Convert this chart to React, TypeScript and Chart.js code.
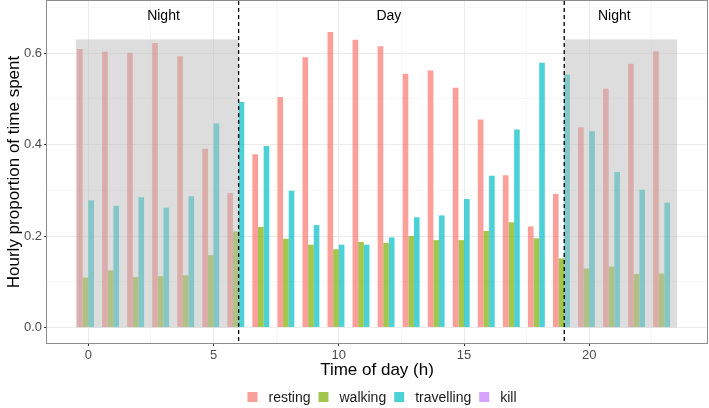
import React, { useEffect, useRef } from "react";
import { Chart, registerables } from "chart.js";

Chart.register(...registerables);

// Hour of day for each group of bars
const hours = [0, 1, 2, 3, 4, 5, 6, 7, 8, 9, 10, 11, 12, 13, 14, 15, 16, 17, 18, 19, 20, 21, 22, 23];

// Hourly proportion of time spent in each behaviour
const resting = [0.609, 0.603, 0.601, 0.622, 0.593, 0.391, 0.294, 0.379, 0.504, 0.591, 0.646, 0.629, 0.615, 0.555, 0.562, 0.524, 0.455, 0.333, 0.221, 0.292, 0.438, 0.522, 0.577, 0.604];
const walking = [0.109, 0.125, 0.110, 0.112, 0.114, 0.158, 0.210, 0.220, 0.194, 0.181, 0.171, 0.187, 0.185, 0.200, 0.191, 0.191, 0.211, 0.230, 0.195, 0.151, 0.129, 0.133, 0.117, 0.118];
const travelling = [0.278, 0.266, 0.285, 0.262, 0.287, 0.446, 0.493, 0.397, 0.299, 0.224, 0.181, 0.181, 0.197, 0.241, 0.245, 0.281, 0.332, 0.433, 0.579, 0.553, 0.429, 0.340, 0.301, 0.273];
const kill = [0, 0, 0, 0, 0, 0, 0, 0, 0, 0, 0, 0, 0, 0, 0, 0, 0, 0, 0, 0, 0, 0, 0, 0];

const seriesNames = ["resting", "walking", "travelling", "kill"];
const seriesValues = [resting, walking, travelling, kill];
const seriesColors = ["#F8766D", "#7CAE00", "#00BFC4", "#C77CFF"];

// Night periods (shaded), day/night boundaries and period captions
const nightPeriods = [
  [-0.5, 6],
  [19, 23.5],
];
const nightShadeTop = 0.63;
const periodBreaks = [6, 19];
const periodNames = ["Night", "Day", "Night"];
const periodCenters = [3, 12, 21];
const periodLabelLevel = 0.68;

// Axis ticks
const xMajorTicks = [0, 5, 10, 15, 20];
const xMinorTicks = [2.5, 7.5, 12.5, 17.5, 22.5];
const yMajorTicks = [0, 0.2, 0.4, 0.6];
const yMinorTicks = [0.1, 0.3, 0.5, 0.7];

const xTitle = "Time of day (h)";
const yTitle = "Hourly proportion of time spent";

const FONT = '"Liberation Sans", Arial, Helvetica, sans-serif';
const BAR_ALPHA = 0.7;

function withAlpha(hex: string, a: number): string {
  const n = parseInt(hex.slice(1), 16);
  return `rgba(${(n >> 16) & 255}, ${(n >> 8) & 255}, ${n & 255}, ${a})`;
}

function isIn(list: number[], v: number): boolean {
  return list.some((t) => Math.abs(t - v) < 1e-9);
}

const overlayPlugin = {
  id: "dayNightOverlay",
  afterDatasetsDraw(chart: any) {
    const { ctx, chartArea, scales } = chart;
    const x = scales.x;
    const y = scales.y;
    ctx.save();
    ctx.beginPath();
    ctx.rect(chartArea.left, chartArea.top, chartArea.right - chartArea.left, chartArea.bottom - chartArea.top);
    ctx.clip();

    // shaded night blocks over the bars
    ctx.fillStyle = "rgba(188, 188, 188, 0.5)";
    for (const [a, b] of nightPeriods) {
      const x0 = x.getPixelForValue(a);
      const x1 = x.getPixelForValue(b);
      const y0 = y.getPixelForValue(nightShadeTop);
      const y1 = y.getPixelForValue(0);
      ctx.fillRect(x0, y0, x1 - x0, y1 - y0);
    }

    // dashed day/night boundaries
    ctx.strokeStyle = "#000000";
    ctx.lineWidth = 1.3;
    ctx.setLineDash([4, 3]);
    for (const b of periodBreaks) {
      const px = x.getPixelForValue(b);
      ctx.beginPath();
      ctx.moveTo(px, chartArea.top);
      ctx.lineTo(px, chartArea.bottom);
      ctx.stroke();
    }
    ctx.setLineDash([]);

    // period captions
    ctx.fillStyle = "#000000";
    ctx.font = `14px ${FONT}`;
    ctx.textAlign = "center";
    ctx.textBaseline = "middle";
    periodNames.forEach((name, i) => {
      ctx.fillText(name, x.getPixelForValue(periodCenters[i]), y.getPixelForValue(periodLabelLevel));
    });
    ctx.restore();
  },
  afterDraw(chart: any) {
    const { ctx, chartArea } = chart;
    ctx.save();

    // panel border
    ctx.strokeStyle = "#8c8c8c";
    ctx.lineWidth = 1;
    ctx.strokeRect(
      Math.round(chartArea.left) - 0.5,
      Math.round(chartArea.top) - 0.5,
      Math.round(chartArea.right - chartArea.left) + 1,
      Math.round(chartArea.bottom - chartArea.top) + 1
    );

    // axis titles
    ctx.fillStyle = "#000000";
    ctx.font = `17px ${FONT}`;
    ctx.textAlign = "center";
    ctx.textBaseline = "middle";
    const cx = (chartArea.left + chartArea.right) / 2;
    ctx.fillText(xTitle, cx, 370);
    ctx.save();
    ctx.translate(14, (chartArea.top + chartArea.bottom) / 2);
    ctx.rotate(-Math.PI / 2);
    ctx.fillText(yTitle, 0, 0);
    ctx.restore();

    // legend
    ctx.font = `14px ${FONT}`;
    const key = 10;
    const keyGap = 11;
    const itemGap = 8;
    const widths = seriesNames.map((n) => ctx.measureText(n).width);
    const total = widths.reduce((s, w) => s + key + keyGap + w, 0) + itemGap * (seriesNames.length - 1);
    let lx = cx + 5 - total / 2;
    const ly = 397;
    ctx.textAlign = "left";
    seriesNames.forEach((name, i) => {
      ctx.fillStyle = withAlpha(seriesColors[i], BAR_ALPHA);
      ctx.fillRect(lx, ly - key / 2, key, key);
      ctx.fillStyle = "#1a1a1a";
      ctx.fillText(name, lx + key + keyGap, ly + 1);
      lx += key + keyGap + widths[i] + itemGap;
    });
    ctx.restore();
  },
};

export default function App() {
  const canvasRef = useRef<HTMLCanvasElement | null>(null);

  useEffect(() => {
    if (!canvasRef.current) return;
    const datasets = seriesNames.map((name, si) => ({
      type: "bar" as const,
      label: name,
      data: hours.map((h, i) => ({ x: h, y: seriesValues[si][i] })),
      backgroundColor: withAlpha(seriesColors[si], BAR_ALPHA),
      borderWidth: 0,
      categoryPercentage: 0.9,
      barPercentage: 1,
    }));

    const chart = new Chart(canvasRef.current, {
      type: "bar",
      data: { datasets },
      plugins: [overlayPlugin],
      options: {
        responsive: false,
        animation: false,
        devicePixelRatio: 1,
        layout: { padding: { top: 1, right: 2, left: 0, bottom: 0 } },
        plugins: {
          legend: { display: false },
          tooltip: { enabled: false },
        },
        scales: {
          x: {
            type: "linear",
            min: -1.65,
            max: 24.7,
            offset: false,
            afterBuildTicks: (scale: any) => {
              scale.ticks = [...xMajorTicks, ...xMinorTicks].sort((a, b) => a - b).map((v) => ({ value: v }));
            },
            afterFit: (scale: any) => {
              scale.height = 65;
              scale.paddingLeft = 0;
              scale.paddingRight = 0;
            },
            border: { display: false },
            grid: {
              offset: false,
              drawTicks: true,
              tickLength: 3,
              color: (c: any) => (c.tick && isIn(xMajorTicks, c.tick.value) ? "#EBEBEB" : "#F4F4F4"),
              lineWidth: (c: any) => (c.tick && isIn(xMajorTicks, c.tick.value) ? 1 : 0.7),
              tickColor: (c: any) => (c.tick && isIn(xMajorTicks, c.tick.value) ? "#333333" : "rgba(0,0,0,0)"),
              tickWidth: 1,
            },
            ticks: {
              autoSkip: false,
              maxRotation: 0,
              padding: 2,
              color: "#4D4D4D",
              font: { family: FONT, size: 13 },
              callback: (v: any) => (isIn(xMajorTicks, Number(v)) ? String(v) : ""),
            },
          },
          y: {
            type: "linear",
            min: -0.034,
            max: 0.714,
            afterBuildTicks: (scale: any) => {
              scale.ticks = [...yMajorTicks, ...yMinorTicks].sort((a, b) => a - b).map((v) => ({ value: v }));
            },
            afterFit: (scale: any) => {
              scale.width = 47;
              scale.paddingTop = 0;
              scale.paddingBottom = 0;
            },
            border: { display: false },
            grid: {
              drawTicks: true,
              tickLength: 3,
              color: (c: any) => (c.tick && isIn(yMajorTicks, c.tick.value) ? "#EBEBEB" : "#F4F4F4"),
              lineWidth: (c: any) => (c.tick && isIn(yMajorTicks, c.tick.value) ? 1 : 0.7),
              tickColor: (c: any) => (c.tick && isIn(yMajorTicks, c.tick.value) ? "#333333" : "rgba(0,0,0,0)"),
              tickWidth: 1,
            },
            ticks: {
              autoSkip: false,
              padding: 2,
              color: "#4D4D4D",
              font: { family: FONT, size: 13 },
              callback: (v: any) => (isIn(yMajorTicks, Number(v)) ? Number(v).toFixed(1) : ""),
            },
          },
        },
      } as any,
    });
    return () => chart.destroy();
  }, []);

  return (
    <div style={{ position: "fixed", left: 0, top: 0, width: 709, height: 408, background: "#ffffff" }}>
      <canvas ref={canvasRef} width={709} height={408} style={{ display: "block" }} />
    </div>
  );
}
